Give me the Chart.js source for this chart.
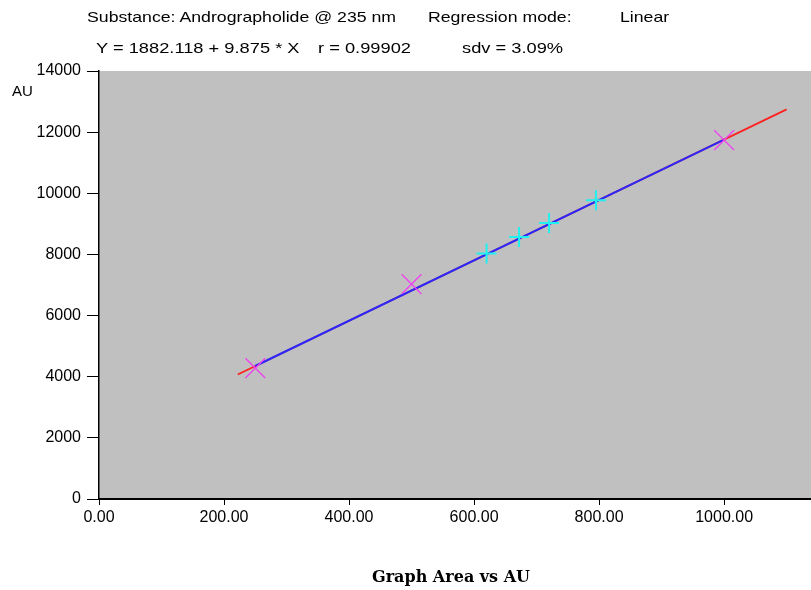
<!DOCTYPE html>
<html>
<head>
<meta charset="utf-8">
<script src="https://cdn.jsdelivr.net/npm/chart.js@4/dist/chart.umd.min.js"></script>
<style>
  html, body { margin: 0; padding: 0; background: #fff; }
  #wrap { position: relative; width: 811px; height: 590px; }
  canvas { position: absolute; left: 0; top: 0; }
  .t { position: absolute; font-family: "Liberation Sans", Arial, sans-serif; font-size: 14.5px; color: #000; white-space: pre; line-height: 1; transform-origin: 0 50%; }
  .h1 { transform: scaleX(1.22); }
  .h2 { transform: scaleX(1.26); }
  #au { position: absolute; left: 12px; top: 83px; font-family: "Liberation Sans", Arial, sans-serif; font-size: 15px; line-height: 1; color: #000; }
  #cap { position: absolute; left: 372px; top: 569px; font-family: "DejaVu Serif", serif; font-weight: bold; font-size: 16px; color: #000; line-height: 1; white-space: pre; }
</style>
</head>
<body>
<div id="wrap">
  <canvas id="c" width="811" height="590"></canvas>
  <div class="t h1" style="left:87px;top:10px;">Substance: Andrographolide @ 235 nm</div>
  <div class="t h1" style="left:428px;top:10px;">Regression mode:</div>
  <div class="t h1" style="left:620px;top:10px;">Linear</div>
  <div class="t h2" style="left:96px;top:41px;">Y = 1882.118 + 9.875 * X</div>
  <div class="t h2" style="left:318px;top:41px;">r = 0.99902</div>
  <div class="t h2" style="left:462px;top:41px;">sdv = 3.09%</div>
  <div id="au">AU</div>
  <div id="cap">Graph Area vs AU</div>
</div>
<script>
// Calibration standards (magenta X)
const stdX = [250, 500, 1000];
const stdY = [4280, 7030, 11740];
// Samples (cyan +)
const smpX = [620, 672, 720, 795];
const smpY = [8030, 8570, 9030, 9770];
// Regression line: calibrated range (blue) and extension (red)
const fitX = [250, 1000];
const fitY = [4351, 11757];
const extX = [222, 1100];
const extY = [4074, 12745];
// Tick labels
const xTicks = [0, 200, 400, 600, 800, 1000];
const yTicks = [0, 2000, 4000, 6000, 8000, 10000, 12000, 14000];

const pts = (xs, ys) => xs.map((x, i) => ({x, y: ys[i]}));

const bgPlugin = {
  id: 'bg',
  beforeDraw(chart) {
    const {ctx, chartArea: a} = chart;
    ctx.save();
    ctx.fillStyle = '#c0c0c0';
    ctx.fillRect(a.left, a.top, a.right - a.left, a.bottom - a.top);
    ctx.restore();
  }
};

new Chart(document.getElementById('c'), {
  type: 'scatter',
  data: {
    datasets: [
      { data: pts(extX, extY), showLine: true, borderColor: '#ff2020', borderWidth: 1.8, pointRadius: 0, order: 4 },
      { data: pts(fitX, fitY), showLine: true, borderColor: '#2828ff', borderWidth: 2, pointRadius: 0, order: 3 },
      { data: pts(stdX, stdY), showLine: false, pointStyle: 'crossRot', pointRadius: 14, pointBorderColor: '#f040f0', pointBorderWidth: 1.3, order: 2 },
      { data: pts(smpX, smpY), showLine: false, pointStyle: 'cross', pointRadius: 10, pointBorderColor: '#20f0f0', pointBorderWidth: 2, order: 1 }
    ]
  },
  options: {
    responsive: false,
    animation: false,
    events: [],
    layout: { autoPadding: false, padding: { top: 71, right: 0, left: 0, bottom: 0 } },
    plugins: { legend: { display: false }, tooltip: { enabled: false } },
    scales: {
      x: {
        type: 'linear', min: 0, max: 1139,
        afterFit: s => { s.height = 91; s.paddingLeft = 0; s.paddingRight = 0; },
        afterBuildTicks: s => { s.ticks = xTicks.map(v => ({value: v})); },
        grid: { display: true, drawOnChartArea: false, drawTicks: true, tickLength: 6, color: '#000', lineWidth: 1 },
        border: { display: true, color: '#000', width: 2 },
        ticks: { padding: 3, color: '#000', font: { family: 'Liberation Sans', size: 16 }, maxRotation: 0,
                 callback: v => Number(v).toFixed(2) }
      },
      y: {
        type: 'linear', min: 0, max: 14000,
        afterFit: s => { s.width = 99; s.paddingTop = 0; s.paddingBottom = 0; },
        afterBuildTicks: s => { s.ticks = yTicks.map(v => ({value: v})); },
        grid: { display: true, drawOnChartArea: false, drawTicks: true, tickLength: 12, color: '#000', lineWidth: 1 },
        border: { display: true, color: '#000', width: 1.5 },
        ticks: { padding: 6, color: '#000', font: { family: 'Liberation Sans', size: 16 },
                 callback: v => String(v) }
      }
    }
  },
  plugins: [bgPlugin]
});
</script>
</body>
</html>
